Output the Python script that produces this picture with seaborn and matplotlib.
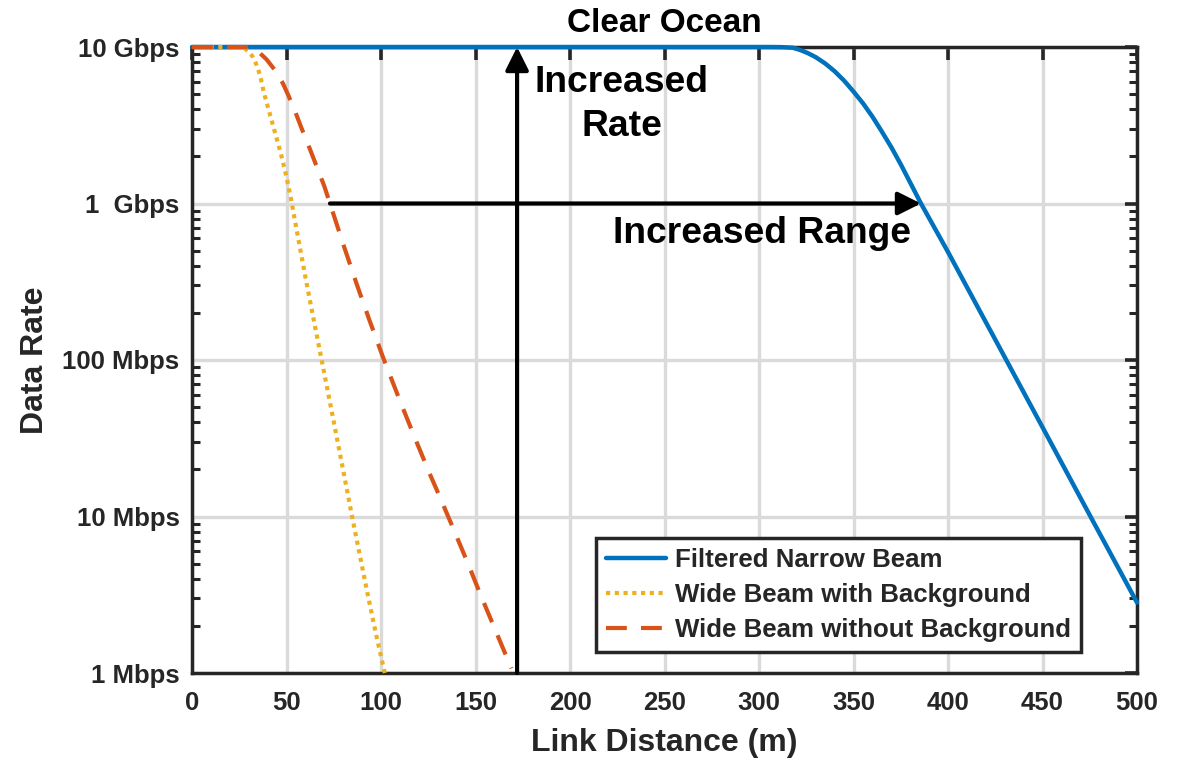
import numpy as np
import pandas as pd
import matplotlib
matplotlib.use("Agg")
import matplotlib.pyplot as plt
import seaborn as sns
from matplotlib.ticker import LogLocator, NullFormatter, FixedLocator

# ---------------- data ----------------
dist_narrow = [0, 305, 312, 318, 322, 326, 330, 335, 340, 345, 350, 355, 360, 365, 370, 375, 380,
               385.7, 400, 425, 450, 475, 500]
rate_narrow = [1e10, 1e10, 9.98e9, 9.89e9, 9.55e9, 9.12e9, 8.61e9, 7.85e9, 7.00e9, 6.10e9, 5.19e9,
               4.37e9, 3.59e9, 2.88e9, 2.29e9, 1.78e9, 1.36e9,
               1.0e9, 4.9e8, 1.35e8, 3.72e7, 1.02e7, 2.82e6]

dist_wide_bg = [0, 25, 28, 30, 32, 34, 36, 38, 41, 44, 47, 50, 52.5, 56, 60, 64, 68.6, 72.5,
                76.7, 80.7, 84.7, 89, 93, 97.5, 102]
rate_wide_bg = [1e10, 1e10, 9.77e9, 9.33e9, 8.71e9, 7.76e9, 6.61e9, 5.13e9, 3.80e9, 2.82e9,
                2.09e9, 1.48e9, 1.05e9, 6.17e8, 3.39e8, 1.91e8, 1.0e8, 5.75e7,
                3.16e7, 1.78e7, 1.0e7, 5.50e6, 3.16e6, 1.74e6, 1.0e6]

dist_wide_nobg = [0, 28, 32, 36, 39.5, 44, 48, 51, 54.5, 58, 62, 66, 70, 73, 80, 87, 94, 101.6,
                  110, 118, 125.5, 132, 138, 146, 153, 161, 169]
rate_wide_nobg = [1e10, 1e10, 9.77e9, 9.12e9, 8.32e9, 7.08e9, 5.89e9, 4.90e9, 3.89e9, 3.02e9,
                  2.29e9, 1.72e9, 1.29e9, 1.0e9, 5.50e8, 3.09e8, 1.78e8, 1.0e8,
                  5.50e7, 3.16e7, 1.91e7, 1.26e7, 8.51e6, 5.01e6, 3.09e6, 1.82e6, 1.07e6]

series_labels = ["Filtered Narrow Beam", "Wide Beam with Background", "Wide Beam without Background"]
series_colors = ["#0072BD", "#EDB120", "#D95319"]

x_ticks = [0, 50, 100, 150, 200, 250, 300, 350, 400, 450, 500]
y_ticks = [1e6, 1e7, 1e8, 1e9, 1e10]
y_tick_labels = ["1 Mbps", "10 Mbps", "100 Mbps", "1  Gbps", "10 Gbps"]

rate_arrow_x = 172
range_arrow = (73, 385.7)

# ---------------- style ----------------
sns.set_theme(style="white")
plt.rcParams["font.family"] = ["Liberation Sans", "DejaVu Sans"]
plt.rcParams["font.weight"] = "bold"

spine_col = "#262626"

fig = plt.figure(figsize=(11.79, 7.60), dpi=100)
ax = fig.add_axes([192 / 1179, 1 - 673 / 760, 945 / 1179, 626 / 760])

frames = [
    pd.DataFrame({"d": dist_narrow, "r": rate_narrow}),
    pd.DataFrame({"d": dist_wide_bg, "r": rate_wide_bg}),
    pd.DataFrame({"d": dist_wide_nobg, "r": rate_wide_nobg}),
]
styles = ["-", (0, (1.0, 1.1)), (0, (5.0, 3.4))]
widths = [3.2, 3.0, 3.0]

ax.set_yscale("log")
for df, lab, col, ls, lw in zip(frames, series_labels, series_colors, styles, widths):
    sns.lineplot(data=df, x="d", y="r", ax=ax, color=col, linestyle=ls, lw=lw,
                 label=lab, sort=False, estimator=None, clip_on=False, zorder=3)

ax.set_xlim(0, 500)
ax.set_ylim(1e6, 1e10)
ax.xaxis.set_major_locator(FixedLocator(x_ticks))
ax.set_xticklabels([str(v) for v in x_ticks])
ax.yaxis.set_major_locator(FixedLocator(y_ticks))
ax.set_yticklabels(y_tick_labels)
ax.yaxis.set_minor_locator(LogLocator(base=10, subs=np.arange(2, 10)))
ax.yaxis.set_minor_formatter(NullFormatter())

ax.grid(True, which="major", color="#dadada", lw=2.4, zorder=0)
ax.set_axisbelow(True)

for s in ax.spines.values():
    s.set_color(spine_col)
    s.set_linewidth(2.5)
    s.set_visible(True)

ax.tick_params(axis="both", which="major", direction="in", length=9, width=2.6,
               color=spine_col, top=True, right=True, labelsize=18.5, labelcolor=spine_col)
ax.tick_params(axis="x", which="major", pad=13)
ax.tick_params(axis="y", which="major", pad=9)
ax.tick_params(axis="y", which="minor", direction="in", length=5.5, width=2.2,
               color=spine_col, left=True, right=True)
for t in ax.get_xticklabels() + ax.get_yticklabels():
    t.set_fontweight("bold")

ax.set_xlabel("Link Distance (m)", fontsize=23, fontweight="bold", color=spine_col, labelpad=9)
ax.set_ylabel("Data Rate", fontsize=23, fontweight="bold", color=spine_col, labelpad=9)
ax.set_title("Clear Ocean", fontsize=24, fontweight="bold", color="black", pad=11)

# arrows
arrow_kw = dict(arrowstyle="-|>,head_length=0.7,head_width=0.35", color="black", lw=3.0,
                shrinkA=0, shrinkB=0, mutation_scale=20)
ax.annotate("", xy=(rate_arrow_x, 1e10), xytext=(rate_arrow_x, 1e6),
            arrowprops=arrow_kw, zorder=4, annotation_clip=False)
ax.annotate("", xy=(range_arrow[1], 1e9), xytext=(range_arrow[0], 1e9),
            arrowprops=arrow_kw, zorder=4)

ax.text(227.5, 4.3e9, "Increased\nRate", fontsize=26.8, fontweight="bold", ha="center",
        va="center", linespacing=1.32, color="black")
ax.text(301.6, 6.45e8, "Increased Range", fontsize=26.8, fontweight="bold", ha="center",
        va="center", color="black")

leg = ax.legend(loc="lower right", bbox_to_anchor=(0.9407, 0.0335), borderaxespad=0,
                frameon=True, fancybox=False, framealpha=1,
                handlelength=2.3, handletextpad=0.35, labelspacing=0.42, borderpad=0.4,
                prop={"weight": "bold", "size": 18.6})
leg.get_frame().set_edgecolor(spine_col)
leg.get_frame().set_linewidth(2.5)
leg.set_zorder(5)

fig.savefig("out.png", dpi=100)
